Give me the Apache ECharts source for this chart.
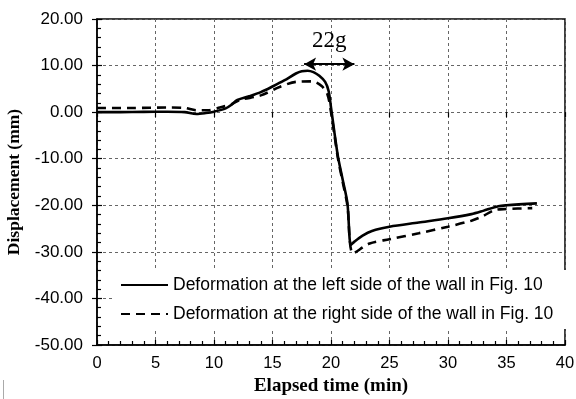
<!DOCTYPE html>
<html><head><meta charset="utf-8">
<script src="https://cdn.jsdelivr.net/npm/echarts@6/dist/echarts.min.js"></script>
<style>html,body{margin:0;padding:0;background:#fff}#c{width:576px;height:399px}</style>
</head><body><div id="c"></div>
<script>
const xTicks = [0, 5, 10, 15, 20, 25, 30, 35, 40];
const yTicks = [-50, -40, -30, -20, -10, 0, 10, 20];
const seriesNames = ['Deformation at the left side of the wall in Fig. 10', 'Deformation at the right side of the wall in Fig. 10'];
const leftTime = [0, 2, 4, 6, 7.5, 8.5, 9.3, 10, 11, 11.5, 12, 13, 14, 15, 16, 17, 17.5, 18, 18.5, 19, 19.5, 19.8, 20, 20.3, 20.6, 21, 21.4, 21.7, 22, 22.7, 23.5, 25, 27.5, 30, 32, 33, 34.3, 35, 37.6];
const leftDisp = [0, 0, 0.05, 0.1, 0, -0.4, -0.2, 0.1, 0.8, 1.6, 2.6, 3.4, 4.3, 5.5, 6.8, 8.3, 8.8, 8.9, 8.6, 7.8, 6.5, 4.5, 1, -4.5, -9.6, -14.5, -19.5, -28.5, -27.8, -26.5, -25.5, -24.6, -23.7, -22.8, -21.9, -21.2, -20.2, -20.0, -19.6];
const rightTime = [0, 3, 6, 7.5, 8.5, 9.5, 10.5, 11.5, 12.2, 14, 15.6, 17, 18.4, 19.2, 19.7, 20, 20.3, 20.6, 21, 21.4, 21.9, 23.3, 25, 27.5, 30, 32, 33, 34, 35, 37.2];
const rightDisp = [0.9, 0.9, 1.0, 0.9, 0.4, 0.4, 1.0, 1.7, 2.6, 3.6, 5.4, 6.5, 6.6, 5.6, 3.8, 0, -5, -10, -15, -20, -30.3, -28.2, -27.3, -26, -24.6, -23.3, -22.3, -21.0, -20.8, -20.6];
const annotText = '22g';
const arrowX = [17.7, 22.0];
const arrowY = 10.3;

const zip = (a, b) => a.map((v, i) => [v, b[i]]);
const sans = 'Liberation Sans, Arial, sans-serif';
const serif = 'Liberation Serif, Times New Roman, serif';

const chart = echarts.init(document.getElementById('c'), null, {renderer: 'canvas'});
const gridLine = {show: true, lineStyle: {color: '#666', type: [3, 3], width: 1}};
chart.setOption({
  animation: false,
  backgroundColor: '#fff',
  grid: {left: 97, right: 11, top: 19, bottom: 54, containLabel: false, outerBoundsMode: 'none', show: true, borderColor: '#000', borderWidth: 1.5, backgroundColor: 'transparent'},
  legend: {
    left: 113, top: 270, orient: 'vertical', itemGap: 11, itemWidth: 47, itemHeight: 14,
    backgroundColor: '#fff', padding: [6, 14, 6, 7],
    itemStyle: {opacity: 0, borderWidth: 0},
    textStyle: {fontFamily: sans, fontSize: 17.5, color: '#000'},
    data: seriesNames
  },
  graphic: [{type: 'line', shape: {x1: 3.5, y1: 380, x2: 3.5, y2: 399}, style: {stroke: '#aaa', lineWidth: 1}, silent: true}],
  xAxis: [{
    type: 'value', min: xTicks[0], max: xTicks[xTicks.length - 1], interval: 5,
    name: 'Elapsed time (min)', nameLocation: 'middle', nameGap: 29,
    nameTextStyle: {fontFamily: serif, fontWeight: 'bold', fontSize: 19, color: '#000'},
    axisLine: {onZero: false, lineStyle: {color: '#000', width: 1.5}},
    axisTick: {inside: true, length: 5, lineStyle: {color: '#000', width: 1.2}},
    minorTick: {show: true, splitNumber: 5, length: 4, lineStyle: {color: '#000', width: 1.2}},
    axisLabel: {fontFamily: sans, fontSize: 16.5, color: '#000', margin: 10},
    splitLine: gridLine
  }, {
    type: 'value', min: 0, max: 40, interval: 5, position: 'bottom',
    axisLine: {show: false}, axisTick: {inside: false, length: 5, lineStyle: {color: '#000', width: 1.2}},
    axisLabel: {show: false}, splitLine: {show: false}
  }],
  yAxis: [{
    type: 'value', min: yTicks[0], max: yTicks[yTicks.length - 1], interval: 10,
    name: 'Displacement (mm)', nameLocation: 'middle', nameGap: 70,
    nameTextStyle: {fontFamily: serif, fontWeight: 'bold', fontSize: 17.5, color: '#000'},
    axisLine: {onZero: false, lineStyle: {color: '#000', width: 1.5}},
    axisTick: {inside: true, length: 5, lineStyle: {color: '#000', width: 1.2}},
    minorTick: {show: true, splitNumber: 5, length: 4, lineStyle: {color: '#000', width: 1.2}},
    axisLabel: {fontFamily: sans, fontSize: 17, color: '#000', margin: 14, formatter: v => v.toFixed(2)},
    splitLine: gridLine
  }, {
    type: 'value', min: -50, max: 20, interval: 10, position: 'left',
    axisLine: {show: false}, axisTick: {inside: false, length: 5, lineStyle: {color: '#000', width: 1.2}},
    axisLabel: {show: false}, splitLine: {show: false}
  }],
  series: [{
    name: seriesNames[0], type: 'line', symbol: 'none', smooth: 0.3, z: 4,
    data: zip(leftTime, leftDisp),
    lineStyle: {color: '#000', width: 2.6, type: 'solid'}, itemStyle: {color: '#000'},
    markLine: {
      silent: true, symbol: ['arrow', 'arrow'], symbolSize: [10, 12],
      lineStyle: {color: '#000', width: 2, type: 'solid'},
      label: {show: true, position: 'insideMiddleTop', formatter: annotText, fontFamily: serif, fontSize: 23, color: '#000', distance: 12},
      data: [[{coord: [arrowX[0], arrowY]}, {coord: [arrowX[1], arrowY]}]]
    }
  }, {
    name: seriesNames[1], type: 'line', symbol: 'none', smooth: 0.3, z: 3,
    data: zip(rightTime, rightDisp),
    lineStyle: {color: '#000', width: 2.6, type: [9, 6]}, itemStyle: {color: '#000'}
  }]
});
</script></body></html>
